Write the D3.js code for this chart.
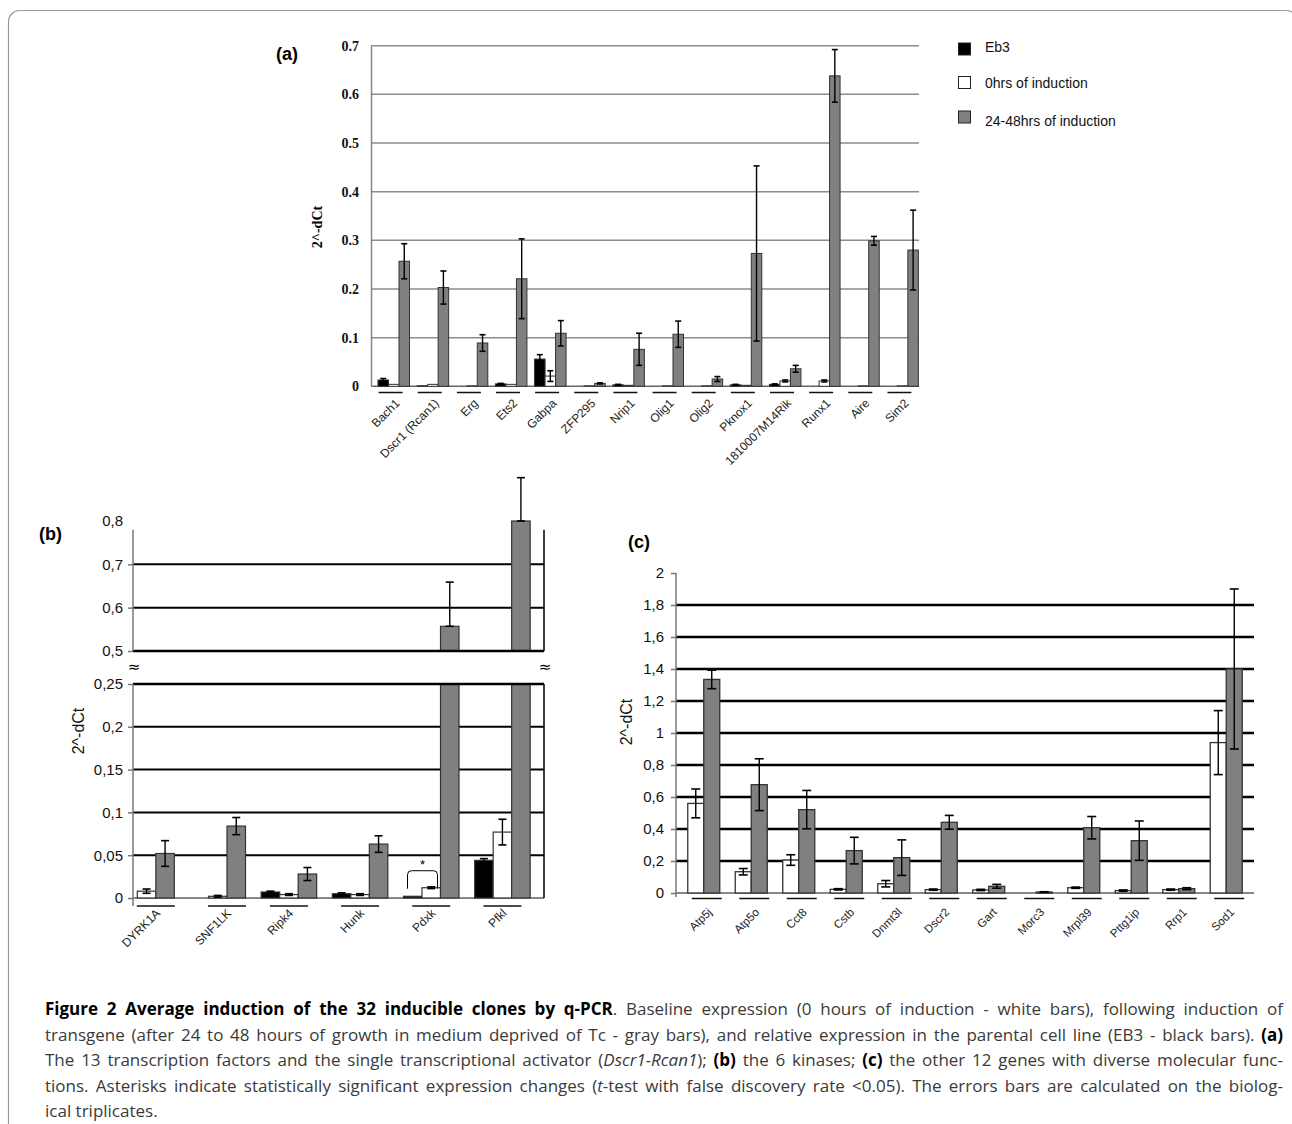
<!DOCTYPE html>
<html>
<head>
<meta charset="utf-8">
<script src="https://cdn.jsdelivr.net/npm/d3@7"></script>
<style>
body{margin:0;background:#fff;}
</style>
</head>
<body>
<script>
// ---- shared
var series = ["eb3", "h0", "h24"];
var seriesLabels = ["Eb3", "0hrs of induction", "24-48hrs of induction"];
var fills = {eb3: "#000000", h0: "#ffffff", h24: "#808080"};

// ---- panel (a): transcription factors
var genesA = ["Bach1", "Dscr1 (Rcan1)", "Erg", "Ets2", "Gabpa", "ZFP295", "Nrip1", "Olig1", "Olig2", "Pknox1", "1810007M14Rik", "Runx1", "Aire", "Sim2"];
var eb3A    = [0.013, 0.001, 0.000, 0.005, 0.056, 0.000, 0.003, 0.000, 0.000, 0.003, 0.004, 0.000, 0.000, 0.000];
var eb3ErrA = [0.003, 0.000, 0.000, 0.001, 0.009, 0.000, 0.001, 0.000, 0.000, 0.001, 0.001, 0.000, 0.000, 0.000];
var h0A     = [0.004, 0.004, 0.001, 0.004, 0.021, 0.001, 0.002, 0.001, 0.001, 0.002, 0.011, 0.011, 0.001, 0.001];
var h0ErrA  = [0.000, 0.000, 0.000, 0.000, 0.011, 0.000, 0.000, 0.000, 0.000, 0.000, 0.002, 0.002, 0.000, 0.000];
var h24A    = [0.257, 0.203, 0.089, 0.221, 0.109, 0.006, 0.076, 0.107, 0.015, 0.273, 0.036, 0.638, 0.299, 0.280];
var h24ErrA = [0.036, 0.034, 0.017, 0.082, 0.026, 0.001, 0.033, 0.027, 0.005, 0.180, 0.007, 0.054, 0.009, 0.082];
var ticksA  = [0, 0.1, 0.2, 0.3, 0.4, 0.5, 0.6, 0.7];

// ---- panel (b): kinases (null = no bar)
var genesB   = ["DYRK1A", "SNF1LK", "Ripk4", "Hunk", "Pdxk", "Pfkl"];
var eb3B     = [null, null, 0.007, 0.005, 0.002, 0.044];
var eb3ErrB  = [0, 0, 0.001, 0.001, 0, 0.002];
var h0B      = [0.008, 0.002, 0.004, 0.004, 0.012, 0.077];
var h0ErrB   = [0.0025, 0.001, 0.001, 0.001, 0.001, 0.015];
var h24B     = [0.052, 0.084, 0.028, 0.063, 0.557, 0.800];
var h24ErrB  = [0.015, 0.010, 0.0076, 0.0097, 0.102, 0.100];
var ticksBLow  = [0, 0.05, 0.1, 0.15, 0.2, 0.25];
var ticksBHigh = [0.5, 0.6, 0.7, 0.8];

// ---- panel (c): other genes
var genesC  = ["Atp5j", "Atp5o", "Cct8", "Cstb", "Dnmt3l", "Dscr2", "Gart", "Morc3", "Mrpl39", "Pttg1ip", "Rrp1", "Sod1"];
var h0C     = [0.560, 0.133, 0.206, 0.023, 0.058, 0.021, 0.019, 0.000, 0.033, 0.015, 0.021, 0.940];
var h0ErrC  = [0.090, 0.020, 0.033, 0.004, 0.020, 0.004, 0.004, 0.000, 0.004, 0.004, 0.004, 0.200];
var h24C    = [1.335, 0.677, 0.521, 0.265, 0.221, 0.442, 0.042, 0.006, 0.408, 0.327, 0.027, 1.400];
var h24ErrC = [0.058, 0.162, 0.120, 0.083, 0.111, 0.043, 0.012, 0.002, 0.070, 0.123, 0.006, 0.500];
var ticksC  = [0, 0.2, 0.4, 0.6, 0.8, 1, 1.2, 1.4, 1.6, 1.8, 2];

// ---- caption
var captionLines = [
    [["Figure 2 Average induction of the 32 inducible clones by q-PCR", "b"], [". Baseline expression (0 hours of induction - white bars), following induction of", ""]],
    [["transgene (after 24 to 48 hours of growth in medium deprived of Tc - gray bars), and relative expression in the parental cell line (EB3 - black bars). ", ""], ["(a)", "b"]],
    [["The 13 transcription factors and the single transcriptional activator (", ""], ["Dscr1-Rcan1", "i"], ["); ", ""], ["(b)", "b"], [" the 6 kinases; ", ""], ["(c)", "b"], [" the other 12 genes with diverse molecular func-", ""]],
    [["tions. Asterisks indicate statistically significant expression changes (", ""], ["t", "i"], ["-test with false discovery rate <0.05). The errors bars are calculated on the biolog-", ""]],
    [["ical triplicates.", ""]]
];

function comma(d){ return String(+d.toFixed(2)).replace(".", ","); }

function errBar(g, cx, y1, y2, cap){
    g.append("line").attr("x1", cx).attr("x2", cx).attr("y1", y1).attr("y2", y2)
        .attr("stroke", "#000").attr("stroke-width", 1.4);
    [y1, y2].forEach(function(yy){
        g.append("line").attr("x1", cx - cap / 2).attr("x2", cx + cap / 2).attr("y1", yy).attr("y2", yy)
            .attr("stroke", "#000").attr("stroke-width", 1.6);
    });
}

function rotLabel(g, x, y, txt, size){
    g.append("text")
        .attr("transform", "translate(" + x + "," + y + ") rotate(-45)")
        .attr("text-anchor", "end").attr("dy", "0.35em")
        .attr("font-family", "Liberation Sans").attr("font-size", size).attr("fill", "#222")
        .text(txt);
}

function init(){
    var svg = d3.select("body").append("svg").attr("width", 1292).attr("height", 1124);

    // frame round the figure
    svg.append("rect").attr("x", 8.5).attr("y", 10.5).attr("width", 1289).attr("height", 1140).attr("rx", 11)
        .attr("fill", "none").attr("stroke", "#9a9a9a").attr("stroke-width", 1.2);

    // ================= panel (a)
    var A = {left: 371, right: 919, top: 45.7, bottom: 386.3};
    var ya = d3.scaleLinear().domain([0, 0.7]).range([A.bottom, A.top]);
    var xa = d3.scaleBand().domain(genesA).range([A.left, A.right]);
    var xa1 = d3.scaleBand().domain(series).range([7, 38.5]);
    var gA = svg.append("g");

    gA.selectAll("line.grid").data(ticksA).enter().append("line")
        .attr("x1", A.left).attr("x2", A.right)
        .attr("y1", function(d){ return ya(d); }).attr("y2", function(d){ return ya(d); })
        .attr("stroke", function(d){ return d === 0 ? "#666" : "#8c8c8c"; }).attr("stroke-width", 1.5);

    gA.append("g").attr("transform", "translate(" + A.left + ",0)")
        .call(d3.axisLeft(ya).tickValues(ticksA).tickSize(0).tickPadding(12)
            .tickFormat(function(d){ return d === 0 ? "0" : d.toFixed(1); }))
        .call(function(g){ g.select(".domain").attr("stroke", "#888").attr("stroke-width", 1.5); })
        .selectAll("text").attr("font-family", "Liberation Serif").attr("font-weight", "bold")
        .attr("font-size", 14).attr("fill", "#111");

    var rowsA = genesA.map(function(g, i){
        return {gene: g, bars: [
            {key: "eb3", v: eb3A[i], e: eb3ErrA[i]},
            {key: "h0", v: h0A[i], e: h0ErrA[i]},
            {key: "h24", v: h24A[i], e: h24ErrA[i]}]};
    });
    rowsA.forEach(function(r){
        var g = gA.append("g").attr("transform", "translate(" + xa(r.gene) + ",0)");
        r.bars.forEach(function(b){
            if (b.v <= 0) return;
            g.append("rect").attr("x", xa1(b.key)).attr("width", xa1.bandwidth())
                .attr("y", ya(b.v)).attr("height", ya(0) - ya(b.v))
                .attr("fill", fills[b.key]).attr("stroke", "#333").attr("stroke-width", 1);
            if (b.e > 0) errBar(g, xa1(b.key) + xa1.bandwidth() / 2, ya(b.v + b.e), ya(b.v - b.e), 6);
        });
        var cx = xa(r.gene) + xa.bandwidth() / 2;
        gA.append("line").attr("x1", cx - 12).attr("x2", cx + 12).attr("y1", 392.5).attr("y2", 392.5)
            .attr("stroke", "#111").attr("stroke-width", 1.5);
        rotLabel(gA, cx + 7, 401, r.gene, 12);
    });

    gA.append("text").attr("transform", "translate(322,227) rotate(-90)").attr("text-anchor", "middle")
        .attr("font-family", "Liberation Serif").attr("font-weight", "bold").attr("font-size", 14)
        .text("2^-dCt");
    gA.append("text").attr("x", 276).attr("y", 60).attr("font-family", "Liberation Sans")
        .attr("font-weight", "bold").attr("font-size", 18).text("(a)");

    // legend
    var leg = svg.append("g");
    series.forEach(function(s, i){
        var yy = [43, 76.5, 111][i];
        leg.append("rect").attr("x", 958.5).attr("y", yy).attr("width", 12).attr("height", 12)
            .attr("fill", fills[s]).attr("stroke", "#222").attr("stroke-width", 1);
        leg.append("text").attr("x", 985).attr("y", [52, 88, 126][i])
            .attr("font-family", "Liberation Sans").attr("font-size", 14).attr("fill", "#111")
            .text(seriesLabels[i]);
    });

    // ================= panel (b) with broken axis
    var B = {left: 133, right: 544, lowTop: 684, lowBottom: 898, highTop: 521, highBottom: 651};
    var ybLow = d3.scaleLinear().domain([0, 0.25]).range([B.lowBottom, B.lowTop]);
    var ybHigh = d3.scaleLinear().domain([0.5, 0.8]).range([B.highBottom, B.highTop]);
    var xb = d3.scaleBand().domain(genesB).range([B.left - 22, B.right - 6]);
    var half = xb.bandwidth() / 2;
    var xb1 = d3.scaleBand().domain(series).range([half - 27.75, half + 27.75]);
    var gB = svg.append("g");

    svg.append("defs").append("clipPath").attr("id", "clipLow").append("rect")
        .attr("x", 0).attr("y", B.lowTop).attr("width", 1292).attr("height", B.lowBottom - B.lowTop + 4);

    // grid
    gB.selectAll("line.gl").data(ticksBLow).enter().append("line")
        .attr("x1", B.left).attr("x2", B.right)
        .attr("y1", function(d){ return ybLow(d); }).attr("y2", function(d){ return ybLow(d); })
        .attr("stroke", function(d){ return d === 0 ? "#888" : "#000"; }).attr("stroke-width", 2);
    gB.selectAll("line.gh").data(ticksBHigh.filter(function(d){ return d < 0.8; })).enter().append("line")
        .attr("x1", B.left).attr("x2", B.right)
        .attr("y1", function(d){ return ybHigh(d); }).attr("y2", function(d){ return ybHigh(d); })
        .attr("stroke", "#000").attr("stroke-width", 2);

    var rowsB = genesB.map(function(g, i){
        return {gene: g, bars: [
            {key: "eb3", v: eb3B[i], e: eb3ErrB[i]},
            {key: "h0", v: h0B[i], e: h0ErrB[i]},
            {key: "h24", v: h24B[i], e: h24ErrB[i]}].filter(function(b){ return b.v !== null; })};
    });
    rowsB.forEach(function(r){
        var g = gB.append("g").attr("transform", "translate(" + xb(r.gene) + ",0)");
        var low = g.append("g").attr("clip-path", "url(#clipLow)");
        r.bars.forEach(function(b){
            var bx = xb1(b.key), cx = bx + xb1.bandwidth() / 2;
            low.append("rect").attr("x", bx).attr("width", xb1.bandwidth())
                .attr("y", ybLow(Math.min(b.v, 0.3))).attr("height", ybLow(0) - ybLow(Math.min(b.v, 0.3)))
                .attr("fill", fills[b.key]).attr("stroke", "#333").attr("stroke-width", 1.2);
            if (b.v <= 0.25 && b.e > 0) errBar(g, cx, ybLow(b.v + b.e), ybLow(b.v - b.e), 8);
            if (b.v > 0.5){
                g.append("rect").attr("x", bx).attr("width", xb1.bandwidth())
                    .attr("y", ybHigh(b.v)).attr("height", ybHigh(0.5) - ybHigh(b.v))
                    .attr("fill", fills[b.key]).attr("stroke", "#333").attr("stroke-width", 1.2);
                errBar(g, cx, ybHigh(b.v + b.e), ybHigh(b.v), 8);
            }
        });
        // label and underline sit under the bars that are drawn
        var shown = r.bars.map(function(b){ return xb(r.gene) + xb1(b.key) + xb1.bandwidth() / 2; });
        var cx = (d3.min(shown) + d3.max(shown)) / 2;
        gB.append("line").attr("x1", cx - 19).attr("x2", cx + 19).attr("y1", 906).attr("y2", 906)
            .attr("stroke", "#111").attr("stroke-width", 1.5);
        rotLabel(gB, cx + 2, 911, r.gene, 12);
    });

    // section borders drawn over the bars
    [ybLow(0.25), ybHigh(0.5)].forEach(function(yy){
        gB.append("line").attr("x1", B.left).attr("x2", B.right).attr("y1", yy).attr("y2", yy)
            .attr("stroke", "#000").attr("stroke-width", 2.4);
    });
    gB.append("line").attr("x1", B.right).attr("x2", B.right).attr("y1", B.lowTop).attr("y2", B.lowBottom)
        .attr("stroke", "#000").attr("stroke-width", 1.5);
    gB.append("line").attr("x1", B.right).attr("x2", B.right).attr("y1", ybHigh(0.78)).attr("y2", B.highBottom)
        .attr("stroke", "#000").attr("stroke-width", 1.5);
    gB.append("line").attr("x1", B.left).attr("x2", B.left).attr("y1", B.lowTop).attr("y2", B.lowBottom + 8)
        .attr("stroke", "#777").attr("stroke-width", 1.5);
    gB.append("line").attr("x1", B.left).attr("x2", B.left).attr("y1", ybHigh(0.78)).attr("y2", B.highBottom)
        .attr("stroke", "#777").attr("stroke-width", 1.5);

    function styleAxisB(g){
        g.select(".domain").remove();
        g.selectAll(".tick line").attr("stroke", "#777").attr("stroke-width", 1.5);
        g.selectAll("text").attr("font-family", "Liberation Sans").attr("font-size", 15).attr("fill", "#111");
    }
    gB.append("g").attr("transform", "translate(" + B.left + ",0)")
        .call(d3.axisLeft(ybLow).tickValues(ticksBLow).tickSize(5).tickPadding(5).tickFormat(comma))
        .call(styleAxisB);
    gB.append("g").attr("transform", "translate(" + B.left + ",0)")
        .call(d3.axisLeft(ybHigh).tickValues(ticksBHigh).tickSize(5).tickPadding(5).tickFormat(comma))
        .call(styleAxisB)
        .selectAll(".tick line").filter(function(d){ return d === 0.8; }).remove();

    // break marks
    [B.left + 1, B.right + 1].forEach(function(xx){
        gB.append("text").attr("x", xx).attr("y", 672).attr("text-anchor", "middle")
            .attr("font-family", "DejaVu Sans").attr("font-size", 15).text("\u2248");
    });

    // significance bracket on Pdxk
    var px = xb("Pdxk");
    var bl = px + xb1("eb3") + 4, br = px + xb1("h0") + xb1.bandwidth() - 3;
    var by = ybLow(h0B[4]) + 1, bt = by - 18;
    gB.append("path")
        .attr("d", "M" + bl + "," + by + " L" + bl + "," + (bt + 4) + " Q" + bl + "," + bt + " " + (bl + 4) + "," + bt +
            " L" + (br - 4) + "," + bt + " Q" + br + "," + bt + " " + br + "," + (bt + 4) + " L" + br + "," + by)
        .attr("fill", "none").attr("stroke", "#000").attr("stroke-width", 1);
    gB.append("text").attr("x", (bl + br) / 2).attr("y", bt - 2).attr("text-anchor", "middle")
        .attr("font-family", "Liberation Sans").attr("font-size", 13).text("*");

    gB.append("text").attr("transform", "translate(84,731) rotate(-90)").attr("text-anchor", "middle")
        .attr("font-family", "Liberation Sans").attr("font-size", 16).attr("fill", "#111").text("2^-dCt");
    gB.append("text").attr("x", 39).attr("y", 540).attr("font-family", "Liberation Sans")
        .attr("font-weight", "bold").attr("font-size", 18).text("(b)");

    // ================= panel (c)
    var C = {left: 676, right: 1254, top: 573, bottom: 893};
    var yc = d3.scaleLinear().domain([0, 2]).range([C.bottom, C.top]);
    var xc = d3.scaleBand().domain(genesC).range([C.left + 4, C.right - 4]);
    var halfC = xc.bandwidth() / 2;
    var xc1 = d3.scaleBand().domain(["h0", "h24"]).range([halfC - 16, halfC + 16]);
    var gC = svg.append("g");

    gC.selectAll("line.grid").data(ticksC.filter(function(d){ return d < 2; })).enter().append("line")
        .attr("x1", C.left).attr("x2", C.right)
        .attr("y1", function(d){ return yc(d); }).attr("y2", function(d){ return yc(d); })
        .attr("stroke", function(d){ return d === 0 ? "#888" : "#000"; })
        .attr("stroke-width", function(d){ return d === 0 ? 2 : 2.6; });

    genesC.forEach(function(gene, i){
        var g = gC.append("g").attr("transform", "translate(" + xc(gene) + ",0)");
        var bars = [{key: "h0", v: h0C[i], e: h0ErrC[i]}, {key: "h24", v: h24C[i], e: h24ErrC[i]}];
        bars.forEach(function(b){
            if (b.v <= 0) return;
            g.append("rect").attr("x", xc1(b.key)).attr("width", xc1.bandwidth())
                .attr("y", yc(b.v)).attr("height", yc(0) - yc(b.v))
                .attr("fill", fills[b.key]).attr("stroke", "#333").attr("stroke-width", 1.3);
        });
        bars.forEach(function(b){
            if (b.e > 0) errBar(g, xc1(b.key) + xc1.bandwidth() / 2, yc(b.v + b.e), yc(b.v - b.e), 9);
        });
        var cx = xc(gene) + halfC;
        gC.append("line").attr("x1", cx - 12).attr("x2", cx + 18).attr("y1", 898.5).attr("y2", 898.5)
            .attr("stroke", "#111").attr("stroke-width", 1.5);
        rotLabel(gC, cx + 6, 910, gene, 11.5);
    });

    gC.append("g").attr("transform", "translate(" + C.left + ",0)")
        .call(d3.axisLeft(yc).tickValues(ticksC).tickSize(5).tickPadding(7).tickFormat(comma))
        .call(function(g){
            g.select(".domain").remove();
            g.selectAll(".tick line").attr("stroke", "#777").attr("stroke-width", 1.5);
            g.selectAll("text").attr("font-family", "Liberation Sans").attr("font-size", 15).attr("fill", "#111");
        });
    gC.append("line").attr("x1", C.left).attr("x2", C.left).attr("y1", C.top).attr("y2", C.bottom + 4)
        .attr("stroke", "#777").attr("stroke-width", 1.5);

    gC.append("text").attr("transform", "translate(632,722) rotate(-90)").attr("text-anchor", "middle")
        .attr("font-family", "Liberation Sans").attr("font-size", 16).attr("fill", "#111").text("2^-dCt");
    gC.append("text").attr("x", 628).attr("y", 548).attr("font-family", "Liberation Sans")
        .attr("font-weight", "bold").attr("font-size", 18).text("(c)");

    // ================= caption, justified
    var capLeft = 45, capRight = 1283;
    var capBase = [1015, 1040.5, 1066, 1091.5, 1117];
    var capTexts = captionLines.map(function(segs, i){
        var t = svg.append("text").attr("x", capLeft).attr("y", capBase[i])
            .attr("font-family", "Open Sans").attr("font-size", 15).attr("fill", "#3a3a3a");
        segs.forEach(function(s){
            var ts = t.append("tspan").text(s[0]);
            if (s[1] === "b") ts.attr("font-weight", "bold").attr("fill", "#000");
            if (s[1] === "i") ts.attr("font-style", "italic");
        });
        return t;
    });
    // pick one font size so the fullest line nearly fills the measure
    var widest = d3.max(capTexts.slice(0, -1), function(t){ return t.node().getComputedTextLength(); });
    var capSize = Math.min(17, 15 * (capRight - capLeft - 6) / widest);
    capTexts.forEach(function(t, i){
        t.attr("font-size", capSize);
        if (i < capTexts.length - 1){
            var natural = t.node().getComputedTextLength();
            var spaces = t.text().split(" ").length - 1;
            t.attr("word-spacing", (capRight - capLeft - natural) / spaces);
        }
    });
}

window.onload = init;
</script>
</body>
</html>
